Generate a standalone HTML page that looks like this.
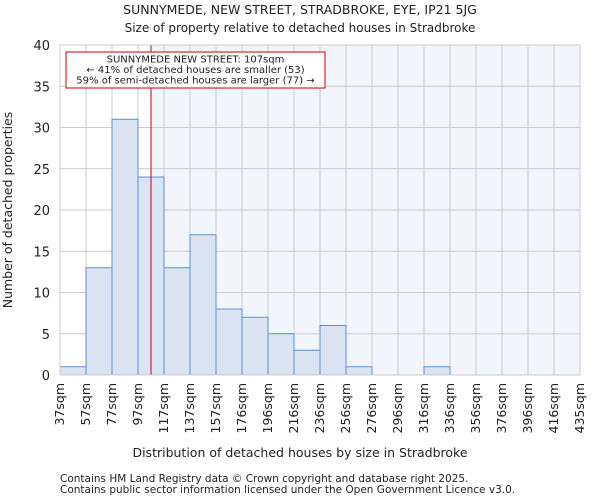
<!DOCTYPE html>
<html><head><meta charset="utf-8"><style>
body{margin:0;background:#fff;font-family:"DejaVu Sans","Liberation Sans",sans-serif;}
svg text{font-family:"DejaVu Sans","Liberation Sans",sans-serif;fill:#222;}
</style></head><body>
<svg id="c" width="600" height="500" xmlns="http://www.w3.org/2000/svg">
<text x="300" y="14" font-size="12.5" text-anchor="middle">SUNNYMEDE, NEW STREET, STRADBROKE, EYE, IP21 5JG</text>
<text x="300" y="32" font-size="12" text-anchor="middle">Size of property relative to detached houses in Stradbroke</text>
<g id="plot"></g>
<text x="300" y="457" font-size="12.5" text-anchor="middle">Distribution of detached houses by size in Stradbroke</text>
<text transform="translate(12,210) rotate(-90)" font-size="12.5" text-anchor="middle">Number of detached properties</text>
<text x="60" y="482" font-size="10.5">Contains HM Land Registry data © Crown copyright and database right 2025.</text>
<text x="60" y="493" font-size="10.5">Contains public sector information licensed under the Open Government Licence v3.0.</text>
</svg>
<script>
const binLabels=["37sqm","57sqm","77sqm","97sqm","117sqm","137sqm","157sqm","176sqm","196sqm","216sqm","236sqm","256sqm","276sqm","296sqm","316sqm","336sqm","356sqm","376sqm","396sqm","416sqm","435sqm"];
const counts=[1,13,31,24,13,17,8,7,5,3,6,1,0,0,1,0,0,0,0,0];
const yTicks=[0,5,10,15,20,25,30,35,40];
const subjectIndex=3.5;
const X0=60,X1=580,Y0=375,Y1=45,yMax=40;
const bw=(X1-X0)/counts.length;
const xs=i=>X0+i*bw;
const ys=v=>Y0-(v/yMax)*(Y0-Y1);
const NS="http://www.w3.org/2000/svg";
const g=document.getElementById('plot');
function mk(t,a){const e=document.createElementNS(NS,t);for(const k in a)e.setAttribute(k,a[k]);g.appendChild(e);return e;}
const lx=xs(subjectIndex);
let e=mk('rect',{x:lx,y:Y1,width:X1-lx,height:Y0-Y1,fill:'#f2f5fc'});


for(let i=0;i<=counts.length;i++){
 e=mk('line',{x1:xs(i),x2:xs(i),y1:Y1,y2:Y0,stroke:'#cccccc','stroke-width':1});
 
 
}
yTicks.forEach(v=>{
 e=mk('line',{x1:X0,x2:X1,y1:ys(v),y2:ys(v),stroke:'#cccccc','stroke-width':1});
 
 
 e=mk('text',{x:X0-10,y:ys(v)+5,'font-size':13,'text-anchor':'end'});e.textContent=v;
 
 
});
counts.forEach((c,i)=>{
 if(c<=0)return;
 e=mk('rect',{x:xs(i),y:ys(c),width:bw,height:Y0-ys(c),fill:'#dae4f3',stroke:'#5b8fd0','stroke-width':1});
 
 
});
binLabels.forEach((l,i)=>{
 const x=xs(i)+4;
 e=mk('text',{transform:`translate(${x},${Y0+8}) rotate(-90)`,'font-size':12.5,'text-anchor':'end'});e.textContent=l;
 
 
});
e=mk('line',{x1:lx,x2:lx,y1:Y1,y2:Y0,stroke:'#cc0000','stroke-width':1});


e=mk('rect',{x:66,y:52,width:259,height:36,fill:'#fff',stroke:'#cc0000','stroke-width':1});


["SUNNYMEDE NEW STREET: 107sqm","← 41% of detached houses are smaller (53)","59% of semi-detached houses are larger (77) →"].forEach((t,k)=>{
 e=mk('text',{x:195.5,y:62.5+k*10.5,'font-size':10,'text-anchor':'middle'});e.textContent=t;
 
 
});
e=mk('rect',{x:X0,y:Y1,width:X1-X0,height:Y0-Y1,fill:'none',stroke:'#cccccc'});


</script>
</body></html>
